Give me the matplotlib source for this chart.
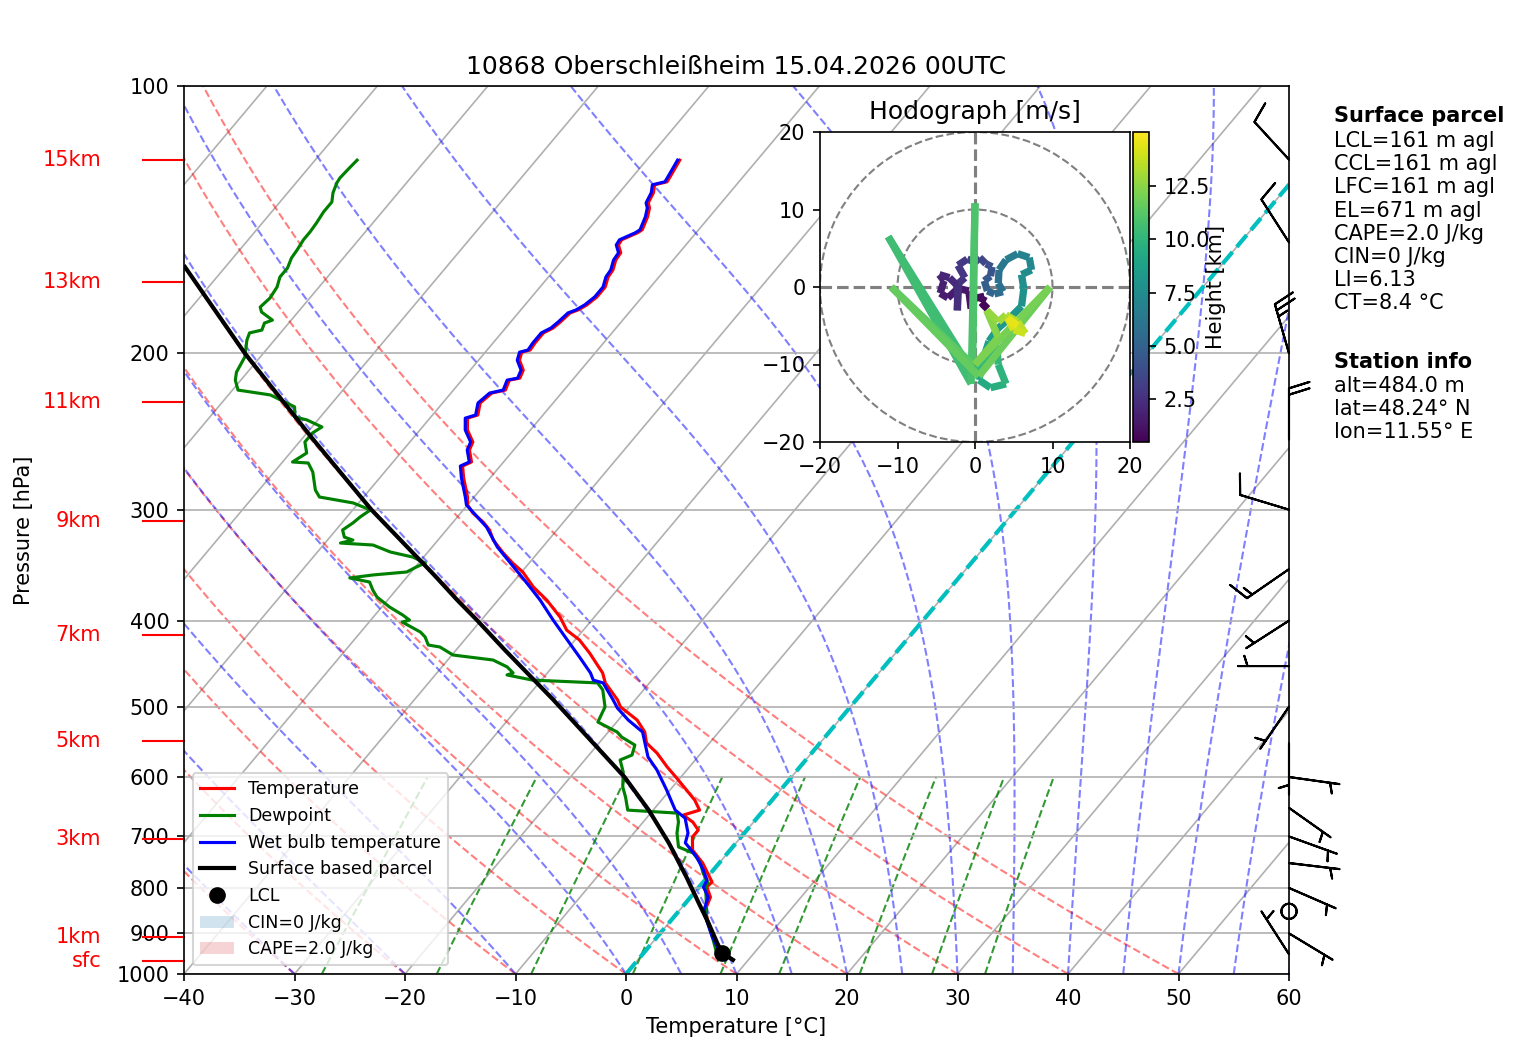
import numpy as np
import matplotlib
matplotlib.use('Agg')
import matplotlib.pyplot as plt
from matplotlib.transforms import Affine2D
from matplotlib.collections import LineCollection
from matplotlib.patches import Circle, Patch
from matplotlib.ticker import NullLocator

# Temperatur [hPa], [°C]
p_temp = [964, 939.7, 908.5, 869.6, 847.4, 819.3, 798.1, 787.9, 749.9, 725.1, 701.1, 688.5, 674.4,
          662.3, 653.8, 637.0, 620.7, 601.7, 584.7, 563.8, 549.4, 533.9, 517.6, 500.3, 491.3, 470.1,
          458.1, 435.0, 420.6, 410.0, 396.3, 379.2, 366.6, 352.6, 344.5, 335.7, 324.6, 316.2, 309.7,
          302.6, 296.3, 290.3, 276.3, 267.9, 265.1, 257.0, 251.7, 244.0, 236.6, 234.7, 227.5, 221.7,
          220.0, 214.4, 213.3, 208.9, 203.6, 199.4, 198.3, 194.8, 189.7, 187.3, 184.4, 180.1, 178.7,
          176.4, 172.8, 168.4, 164.1, 161.1, 157.0, 154.1, 151.0, 149.0, 146.3, 145.2, 140.4, 137.2,
          135.4, 131.9, 129.2, 128.2, 126.6, 121.2]
t_temp = [8.6, 6.7, 5.1, 3.3, 2.3, 1.8, 0.7, 0.8, -1.5, -3.4, -4.4, -4.4, -5.5,
          -6.9, -5.8, -7.0, -8.5, -10.3, -12.0, -14.0, -15.7, -16.7, -18.3, -20.8, -21.6, -24.0,
          -25.0, -27.7, -29.6, -31.5, -33.1, -35.6, -37.8, -39.9, -41.5, -43.1, -45.0, -46.1, -47.3,
          -48.9, -50.0, -50.6, -52.4, -53.4, -52.9, -54.0, -54.3, -55.7, -56.6, -55.9, -56.6, -56.3,
          -55.3, -55.7, -54.9, -55.2, -56.3, -56.7, -56.1, -56.2, -56.2, -55.7, -55.5, -55.3, -54.8,
          -54.4, -54.1, -54.1, -54.6, -54.7, -55.2, -55.3, -56.1, -56.2, -55.3, -55.1, -55.6, -56.1,
          -56.6, -56.9, -57.4, -56.5, -56.6, -57.0]

# Taupunkt
p_dew = [964, 908.5, 869.6, 840.8, 798.1, 790.0, 769.6, 749.9, 730.9, 719.4, 693.9, 674.4, 658.9,
         653.8, 631.9, 615.9, 592.4, 574.1, 566.8, 552.3, 541.0, 533.9, 520.3, 500.3, 478.7, 470.1,
         466.7, 460.5, 458.1, 451.0, 443.0, 437.3, 428.3, 426.1, 417.3, 412.0, 401.5, 399.4, 394.2,
         386.1, 376.2, 369.5, 361.9, 358.1, 355.3, 352.6, 348.0, 344.5, 339.2, 334.8, 328.8, 327.1,
         324.6, 322.1, 316.2, 310.5, 305.7, 300.2, 294.8, 290.3, 285.1, 272.1, 265.8, 265.1, 259.0,
         251.7, 245.9, 242.1, 237.7, 235.9, 229.8, 227.5, 222.8, 220.0, 214.4, 210.0, 201.9, 193.2,
         189.7, 188.3, 184.9, 183.5, 179.7, 177.4, 173.3, 168.4, 164.1, 160.3, 156.2, 153.0, 149.0,
         146.0, 142.6, 138.6, 135.1, 131.9, 128.6, 126.9, 123.7, 121.2]
t_dew = [7.3, 5.0, 3.2, 2.2, 0.6, 0.5, -0.7, -1.7, -3.1, -4.9, -6.1, -6.8, -7.6,
         -12.3, -13.5, -14.5, -15.6, -16.8, -16.1, -16.6, -18.4, -19.2, -21.7, -22.2, -23.7, -24.7,
         -30.8, -33.5, -33.1, -34.1, -35.9, -39.9, -41.7, -42.9, -43.8, -44.6, -47.0, -46.5, -47.5,
         -49.3, -51.2, -52.1, -53.0, -55.1, -53.2, -50.4, -49.9, -49.4, -51.0, -53.4, -55.5, -58.6,
         -57.7, -58.7, -59.4, -59.0, -58.8, -58.4, -60.5, -64.0, -64.9, -66.5, -67.6, -69.1, -68.5,
         -69.5, -69.5, -69.1, -71.0, -72.3, -73.1, -74.1, -76.2, -79.5, -80.5, -81.0, -81.4, -82.5,
         -82.8, -81.9, -82.2, -81.7, -83.3, -83.8, -83.6, -83.8, -84.3, -84.3, -84.7, -84.8, -85.0,
         -85.0, -85.1, -85.3, -85.3, -85.9, -86.3, -86.4, -86.3, -86.2]

# Feuchttemperatur
p_wb = [964, 939.7, 908.5, 869.6, 847.4, 819.3, 798.1, 784.3, 763.7, 738.3, 711.7, 693.9, 667.5,
        653.8, 620.7, 589.3, 569.7, 533.9, 517.6, 501.7, 491.3, 470.1, 466.7, 458.1, 439.6, 420.6,
        399.4, 379.2, 362.8, 344.5, 330.5, 313.8, 296.3, 290.3, 276.3, 267.9, 265.1, 257.0, 251.7,
        244.0, 236.6, 234.7, 227.5, 221.7, 220.0, 214.4, 213.3, 208.9, 203.6, 199.4, 198.3, 194.8,
        189.7, 187.3, 184.4, 180.1, 178.7, 176.4, 172.8, 168.4, 164.1, 161.1, 157.0, 154.1, 151.0,
        149.0, 146.3, 145.2, 140.4, 137.2, 135.4, 131.9, 129.2, 128.2, 126.6, 121.2]
t_wb = [7.9, 6.6, 5.0, 3.2, 2.2, 1.6, 0.4, 0.2, -0.9, -2.5, -4.6, -5.1, -6.5,
        -8.0, -10.3, -12.7, -14.5, -16.9, -19.1, -21.0, -22.0, -24.2, -25.3, -26.1, -28.3, -30.7,
        -33.5, -36.2, -38.7, -41.7, -44.1, -46.6, -50.1, -50.8, -52.6, -53.6, -53.1, -54.2, -54.5,
        -55.9, -56.8, -56.1, -56.8, -56.5, -55.5, -55.9, -55.1, -55.4, -56.5, -56.9, -56.3, -56.4,
        -56.4, -55.9, -55.7, -55.5, -55.0, -54.6, -54.3, -54.3, -54.8, -54.9, -55.4, -55.5, -56.3,
        -56.4, -55.5, -55.3, -55.8, -56.3, -56.8, -57.1, -57.6, -56.7, -56.8, -57.2]

# Bodenparcel
p_parcel = [964, 947, 922.8, 876.4, 832.1, 777.7, 711.7, 653.8, 600.1, 545.2, 491.3, 431.6, 399.4,
            379.2, 355.3, 300.2, 249.8, 199.9, 159.9]
t_parcel = [8.6, 7.1, 5.9, 3.6, 1.2, -1.9, -6.1, -10.4, -15.1, -21.0, -27.4, -35.6, -40.4,
            -43.7, -47.7, -58.3, -69.0, -81.7, -93.65]
p_lcl = [947]
t_lcl = [7.1]

# Wind [kt]
p_wind = [950, 900, 850, 800, 750, 700, 650, 600, 550, 500, 450, 400, 350, 300, 250, 200, 150, 121]
u_wind = [2.7, -4.3, 0, -4.6, -5.0, -4.7, -4.1, -4.95, 0, 2.8, 5.0, 4.2, 12.3, 9.6, 0, 6.9, 5.4, 6.8]
v_wind = [-4.2, 2.6, 0, 2.0, 0.6, 1.7, 2.9, 0.7, 5.0, 4.1, 0, 2.7, 8.5, -2.9, -20, -24.0, -8.4, -7.4]

# Hoehenmarken
hoehen_namen = ['sfc', '1km', '3km', '5km', '7km', '9km', '11km', '13km', '15km']
hoehen_druck = [966.9, 908.5, 704.6, 546.6, 415.1, 309.0, 226.9, 166.2, 121.2]

# Hodograph [m/s], Hoehe [km]
hodo_u = [1.0, 1.6, 0.8, 1.2, -0.2, -0.5, -0.8, -2.2, -3.5, -4.5, -4.0, -4.6, -3.3, -2.3, -2.3,
          -2.1, -1.3, -2.2, -1.0, 0.0, 0.6, 1.4, 2.2, 2.0, 1.2,
          1.6, 2.5, 3.6, 3.0, 3.1, 4.0, 5.5, 7.0, 7.3, 6.0, 6.3, 6.0, 4.5,
          3.0, 1.8, 1.0, 0.5, 2.0, 4.0, 3.0, 2.8, -0.3, -11.2, -0.5, 0.0, -0.3, -10.8, 0.5, 9.7,
          0.0, 3.0, 1.5, 3.0, 4.0, 5.5, 6.5, 5.0, 4.2, 5.5]
hodo_v = [-2.2, -2.8, -2.0, -1.2, -1.5, -2.8, -0.5, -0.2, -1.4, -0.8, 0.8, 1.6, 1.2, 0.2, -3.0,
          0.5, 1.2, 2.8, 3.6, 3.2, 3.8, 3.0, 2.6, 1.4, 0.8,
          -0.5, -0.9, -0.6, 0.5, 2.2, 3.5, 4.3, 3.8, 2.2, 1.6, -0.2, -2.5,
          -4.0, -5.3, -7.0, -9.5, -12.0, -13.0, -12.5, -10.0, -7.5, -11.0, 6.5, -12.5, 10.8, -10.0,
          0.0, -11.5, 0.0, -10.0, -6.5, -3.0, -4.5, -3.6, -4.5, -6.0, -5.5, -4.0, -5.0]
hodo_z = [0.48, 0.6, 0.75, 0.9, 1.0, 1.15, 1.3, 1.45, 1.6, 1.75, 1.9, 2.05, 2.2, 2.35, 2.5,
          2.65, 2.8, 2.95, 3.1, 3.3, 3.6, 3.9, 4.2, 4.5, 4.8,
          5.2, 5.5, 5.8, 6.0, 6.3, 6.6, 6.9, 7.2, 7.5, 7.7, 7.9, 8.1,
          8.3, 8.5, 8.8, 9.1, 9.4, 9.7, 9.9, 10.1, 10.3, 10.5, 10.6, 10.8, 11.0, 11.3, 11.6, 11.8,
          12.0, 12.2, 12.4, 12.7, 13.0, 13.3, 13.6, 13.9, 14.2, 14.5, 15.05]

parcel_zeilen = ['LCL=161 m agl', 'CCL=161 m agl', 'LFC=161 m agl', 'EL=671 m agl',
                 'CAPE=2.0 J/kg', 'CIN=0 J/kg', 'LI=6.13', 'CT=8.4 °C']
station_zeilen = ['alt=484.0 m', 'lat=48.24° N', 'lon=11.55° E']

W, H = 1517, 1060
fig = plt.figure(figsize=(W / 150, H / 150), dpi=150)
ax = fig.add_axes([184 / W, (H - 974) / H, 1105 / W, 888 / H])
ax.set_yscale('log')
ax.set_ylim(1000, 100)
ax.set_xlim(-40, 60)
druck_ticks = list(range(100, 1001, 100))
ax.set_yticks(druck_ticks, labels=[str(p) for p in druck_ticks])
ax.yaxis.set_minor_locator(NullLocator())
ax.set_xticks(range(-40, 61, 10))
ax.yaxis.grid(True)

# schiefe Achse: Isothermen gekippt (in Achsenkoordinaten)
skew = ax.transScale + ax.transLimits + Affine2D().skew(np.arctan(0.675), 0) + ax.transAxes

# Isothermen
for t in range(-100, 61, 10):
    ax.plot([t, t], [1000, 100], color='#b0b0b0', lw=0.8, transform=skew, zorder=0.8)

druck = np.linspace(1000, 100, 181)

# Trockenadiabaten
for t0 in range(-40, 51, 10):
    tk = (t0 + 273.15) * (druck / 1000.0) ** 0.2857 - 273.15
    ax.plot(tk, druck, color='r', ls='--', lw=1, alpha=0.5, transform=skew, zorder=1)

# Feuchtadiabaten
Rd, cp, Lv, eps = 287.04749, 1004.6662, 2.50084e6, 0.6219569


def dtdp(t, p):
    es = 6.112 * np.exp(17.67 * (t - 273.15) / (t - 29.65))
    rs = eps * es / (p - es)
    return (Rd * t + Lv * rs) / (cp + Lv ** 2 * rs * eps / (Rd * t ** 2)) / p


t = np.concatenate((np.arange(-40, 0, 10), np.arange(0, 61, 5))) + 273.15
t = t.astype(float)
tt = [t]
for i in range(len(druck) - 1):
    p = druck[i]
    dp = druck[i + 1] - druck[i]
    k1 = dtdp(t, p)
    k2 = dtdp(t + 0.5 * dp * k1, p + 0.5 * dp)
    k3 = dtdp(t + 0.5 * dp * k2, p + 0.5 * dp)
    k4 = dtdp(t + dp * k3, p + dp)
    t = t + dp * (k1 + 2 * k2 + 2 * k3 + k4) / 6
    tt.append(t)
tt = np.array(tt) - 273.15
for j in range(tt.shape[1]):
    ax.plot(tt[:, j], druck, color='b', ls='--', lw=1, alpha=0.5, transform=skew, zorder=1)

# Mischungsverhaeltnis
druck_w = np.linspace(1000, 600, 50)
for w in [0.0004, 0.001, 0.002, 0.004, 0.007, 0.01, 0.016, 0.024, 0.032]:
    e = druck_w * w / (eps + w)
    a = np.log(e / 6.112)
    td = 243.5 * a / (17.67 - a)
    ax.plot(td, druck_w, color='g', ls='--', lw=1, alpha=0.8, transform=skew, zorder=1)

# 0 Grad Isotherme
ax.plot([0, 0], [1000, 100], color='c', ls='--', lw=2, transform=skew, zorder=1.5)

# Profile
l1, = ax.plot(t_temp, p_temp, 'r', lw=1.5, transform=skew, label='Temperature')
l2, = ax.plot(t_dew, p_dew, 'g', lw=1.5, transform=skew, label='Dewpoint')
l3, = ax.plot(t_wb, p_wb, 'b', lw=1.5, transform=skew, label='Wet bulb temperature')
l4, = ax.plot(t_parcel, p_parcel, 'k', lw=2, transform=skew, label='Surface based parcel')
l5, = ax.plot(t_lcl, p_lcl, 'ko', markersize=7, transform=skew, ls='none', label='LCL')
cin = Patch(facecolor='tab:blue', alpha=0.2, label='CIN=0 J/kg')
cape = Patch(facecolor='tab:red', alpha=0.2, label='CAPE=2.0 J/kg')
ax.legend(handles=[l1, l2, l3, l4, l5, cin, cape], loc='lower left', fontsize='small')

# Windfahnen am rechten Rand
yt = ax.get_yaxis_transform()
ax.barbs(np.ones(len(p_wind)), p_wind, u_wind, v_wind, transform=yt, clip_on=False, zorder=10)

# Hoehen links
for name, p in zip(hoehen_namen, hoehen_druck):
    ax.plot([-0.037, 0], [p, p], color='r', lw=1, transform=yt, clip_on=False)
    ax.text(-0.075, p, name, color='r', ha='right', va='center', transform=yt)

ax.set_xlabel('Temperature [°C]')
ax.set_ylabel('Pressure [hPa]')
ax.yaxis.set_label_coords(-0.136, 0.5)
ax.set_title('10868 Oberschleißheim 15.04.2026 00UTC')

# Hodograph
axh = fig.add_axes([820 / W, (H - 442) / H, 310 / W, 310 / H])
axh.set_xlim(-20, 20)
axh.set_ylim(-20, 20)
axh.set_xticks([-20, -10, 0, 10, 20])
axh.set_yticks([-20, -10, 0, 10, 20])
for r in (10, 20):
    axh.add_patch(Circle((0, 0), r, fill=False, edgecolor='grey', ls='--', lw=1))
axh.axhline(0, color='grey', ls='--')
axh.axvline(0, color='grey', ls='--')
pkt = np.array([hodo_u, hodo_v]).T.reshape(-1, 1, 2)
segs = np.concatenate([pkt[:-1], pkt[1:]], axis=1)
lc = LineCollection(segs, cmap='viridis', linewidths=3.5)
lc.set_array(np.array(hodo_z[:-1]))
lc.set_clim(min(hodo_z), max(hodo_z))
axh.add_collection(lc)
axh.set_title('Hodograph [m/s]')

cax = fig.add_axes([1133 / W, (H - 442) / H, 16 / W, 310 / H])
cb = fig.colorbar(lc, cax=cax, ticks=[2.5, 5, 7.5, 10, 12.5])
cb.ax.set_yticklabels(['2.5', '5.0', '7.5', '10.0', '12.5'])
cax.text(5.2, 0.5, 'Height [km]', rotation=90, ha='center', va='center', transform=cax.transAxes)

# Text rechts
fig.text(1334 / W, 1 - 106 / H, 'Surface parcel', fontweight='bold', va='top')
fig.text(1334 / W, 1 - 131 / H, '\n'.join(parcel_zeilen), va='top')
fig.text(1334 / W, 1 - 352 / H, 'Station info', fontweight='bold', va='top')
fig.text(1334 / W, 1 - 376 / H, '\n'.join(station_zeilen), va='top')

fig.savefig('out.png', dpi=150)
